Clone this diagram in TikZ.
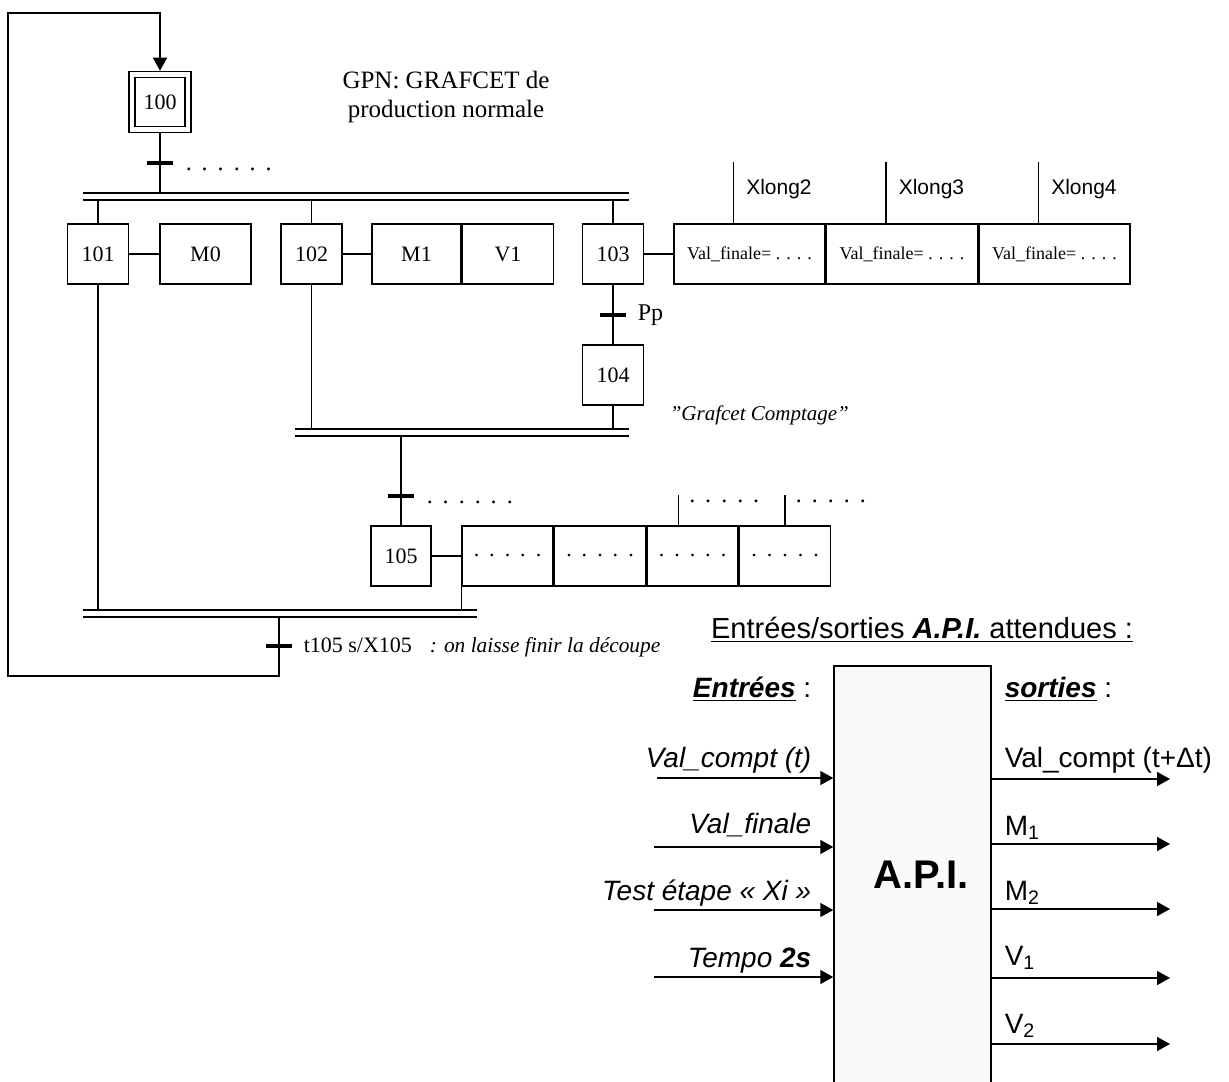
\documentclass[tikz,border=0pt]{standalone}
\usepackage{fontspec}
\setmainfont{Liberation Serif}
\setsansfont{Liberation Sans}
\usepackage{tikz}
\usetikzlibrary{arrows.meta, positioning}

\newcommand{\pts}{.\hspace{5pt}}

\begin{document}
\begin{tikzpicture}[
    x=0.5pt, y=-0.5pt, line width=0.75pt,
    etape/.style={draw, minimum width=30.5pt, minimum height=30pt, inner sep=0pt,
                  font=\fontsize{11}{13}\selectfont},
    action/.style={draw, minimum width=45.5pt, minimum height=30pt, inner sep=0pt,
                   font=\fontsize{11}{13}\selectfont},
    valbox/.style={draw, minimum width=75.5pt, minimum height=30pt, inner sep=0pt,
                   font=\fontsize{9}{11}\selectfont},
    recept/.style={line width=2pt},
    sync/.style={double, double distance=2.75pt},
    txt/.style={inner sep=0pt, font=\fontsize{12}{14}\selectfont},
    io/.style={inner sep=0pt, font=\sffamily\fontsize{14}{16}\selectfont},
    fleche/.style={-{Triangle[length=6.5pt, width=7pt]}}
  ]
  \useasboundingbox (0,0) rectangle (1229,1081);

  % initial step and title
  \node[etape, minimum width=31pt, minimum height=30.5pt] (e100) at (160,102) {};
  \node[etape, minimum width=25pt, minimum height=24.5pt] (e100i) at (e100) {100};
  \node[txt, align=center, font=\fontsize{12.5}{14.5}\selectfont] (gpn) at (446,97)
    {GPN: GRAFCET de\\production normale};

  \coordinate (t1) at (160,163);
  \coordinate (d1) at (160,193);
  \draw (e100.south) -- (d1);
  \draw[recept] ([xshift=-6.5pt]t1) -- ([xshift=6.5pt]t1);
  \node[txt, anchor=base west] (p1) at (185,170) {\pts\pts\pts\pts\pts.};
  \draw[sync] (83,196.5) -- (629,196.5);

  % parallel branches
  \coordinate (d2) at (0,200);
  \node[etape] (e101) at (98,254) {101};
  \node[action] (m0) at (205.5,254) {M0};
  \node[etape] (e102) at (311.5,254) {102};
  \node[action, minimum width=44.5pt] (m1) at (416.5,254) {M1};
  \node[action, right=0pt of m1] (v1) {V1};
  \node[etape] (e103) at (613,254) {103};
  \node[valbox] (val2) at (749.5,254) {Val\_finale= . . . .};
  \node[valbox, right=0pt of val2] (val3) {Val\_finale= . . . .};
  \node[valbox, right=0pt of val3] (val4) {Val\_finale= . . . .};

  \draw (e101.north) -- (e101.north |- d2);
  \draw (e102.north) -- (e102.north |- d2);
  \draw (e103.north) -- (e103.north |- d2);
  \draw (e101) -- (m0);
  \draw (e102) -- (m1);
  \draw (e103) -- (val2);
  \foreach \v/\n in {val2/2, val3/3, val4/4} {
    \draw ([xshift=-8pt]\v.north) -- ++(0,-61) coordinate (x\n);
    \node[inner sep=0pt, font=\sffamily\fontsize{10.5}{12}\selectfont, anchor=west]
      (lx\n) at ([xshift=6pt, yshift=-13.5pt]x\n) {Xlong\n};
  }

  % counting branch
  \coordinate (t2) at (613,315);
  \node[etape] (e104) at (613,375) {104};
  \draw (e103) -- (e104);
  \draw[recept] ([xshift=-6.5pt]t2) -- ([xshift=6.5pt]t2);
  \node[txt, anchor=west] (pp) at ([xshift=12pt]t2) {Pp};
  \node[txt, anchor=west, font=\itshape\fontsize{10.5}{12}\selectfont] (gc) at (669,415)
    {\symbol{34}Grafcet Comptage\symbol{34}};

  % AND convergence then step 105
  \draw[sync] (295,432.5) -- (629,432.5);
  \coordinate (c1) at (0,429);
  \draw (e102.south) -- (e102.south |- c1);
  \draw (e104.south) -- (e104.south |- c1);
  \coordinate (c2) at (401,436);
  \coordinate (t3) at (401,496);
  \node[etape, minimum width=30pt] (e105) at (401,556) {105};
  \draw (c2) -- (e105.north);
  \draw[recept] ([xshift=-6.5pt]t3) -- ([xshift=6.5pt]t3);
  \node[txt, anchor=base west] (p2) at (426,503) {\pts\pts\pts\pts\pts.};

  \node[action] (a1) at (507.5,556) {\pts\pts\pts\pts.};
  \node[action, right=0pt of a1] (a2) {\pts\pts\pts\pts.};
  \node[action, right=0pt of a2] (a3) {\pts\pts\pts\pts.};
  \node[action, right=0pt of a3] (a4) {\pts\pts\pts\pts.};
  \draw (e105) -- (a1);
  \draw ([xshift=-7pt]a3.north) -- ++(0,-30) coordinate (y3);
  \draw (a4.north) -- ++(0,-30) coordinate (y4);
  \node[txt, anchor=base west] (p3) at ([xshift=5pt, yshift=-3.5pt]y3) {\pts\pts\pts\pts.};
  \node[txt, anchor=base west] (p4) at ([xshift=5pt, yshift=-3.5pt]y4) {\pts\pts\pts\pts.};

  % final AND convergence and loop back
  \coordinate (c3) at (0,610);
  \draw (a1.south west) -- (a1.south west |- c3);
  \draw (e101.south) -- (e101.south |- c3);
  \draw[sync] (83,613.5) -- (477,613.5);

  \coordinate (c4) at (279,617);
  \coordinate (t4) at (279,646);
  \coordinate (r1) at (279,676);
  \draw[fleche] (c4) -- (r1) -| (8,13) -| (e100.north);
  \draw[recept] ([xshift=-6.5pt]t4) -- ([xshift=6.5pt]t4);
  \node[txt, anchor=base west, font=\fontsize{11}{13}\selectfont] (t105) at (303,652) {t105 s/X105};
  \node[txt, anchor=base west, font=\itshape\fontsize{10.7}{13}\selectfont] (com) at (429,652)
    {: on laisse finir la découpe};

  % A.P.I. block
  \node[inner sep=0pt, font=\sffamily\fontsize{14.5}{17}\selectfont, anchor=base] (titre) at (922,638)
    {\underline{Entrées/sorties \textbf{\textit{A.P.I.}} attendues :}};
  \node[draw, fill=gray!4, minimum width=78.5pt, minimum height=215pt, inner sep=0pt] (api) at (912.5,881) {};
  \node[inner sep=0pt, font=\sffamily\bfseries\fontsize{20}{24}\selectfont, anchor=base] (apit) at (921,888) {A.P.I.};

  \node[io, anchor=base east] (ent) at (812,697) {\underline{\textbf{\textit{Entrées}}} :};
  \node[io, anchor=base west] (sor) at (1004,697) {\underline{\textbf{\textit{sorties}}} :};

  % inputs
  \coordinate (i1) at (657,778);
  \coordinate (i2) at (654,847);
  \coordinate (i3) at (654,910);
  \coordinate (i4) at (654,977);
  \draw[fleche] (i1) -- (i1 -| api.west);
  \draw[fleche] (i2) -- (i2 -| api.west);
  \draw[fleche] (i3) -- (i3 -| api.west);
  \draw[fleche] (i4) -- (i4 -| api.west);
  \node[io, anchor=base east] (li1) at (812,767) {\textit{Val\_compt (t)}};
  \node[io, anchor=base east] (li2) at (812,833) {\textit{Val\_finale}};
  \node[io, anchor=base east] (li3) at (812,900) {\textit{Test étape « Xi »}};
  \node[io, anchor=base east] (li4) at (812,967) {\textit{Tempo \textbf{2s}}};

  % outputs
  \coordinate (o1) at (1170,779);
  \coordinate (o2) at (1170,844);
  \coordinate (o3) at (1170,909);
  \coordinate (o4) at (1170,978);
  \coordinate (o5) at (1170,1044);
  \draw[fleche] (o1 -| api.east) -- (o1);
  \draw[fleche] (o2 -| api.east) -- (o2);
  \draw[fleche] (o3 -| api.east) -- (o3);
  \draw[fleche] (o4 -| api.east) -- (o4);
  \draw[fleche] (o5 -| api.east) -- (o5);
  \node[io, anchor=base west] (lo1) at (1004,767) {Val\_compt (t+Δt)};
  \node[io, anchor=base west] (lo2) at (1004,835) {M\textsubscript{1}};
  \node[io, anchor=base west] (lo3) at (1004,900) {M\textsubscript{2}};
  \node[io, anchor=base west] (lo4) at (1004,965) {V\textsubscript{1}};
  \node[io, anchor=base west] (lo5) at (1004,1033) {V\textsubscript{2}};
\end{tikzpicture}
\end{document}
